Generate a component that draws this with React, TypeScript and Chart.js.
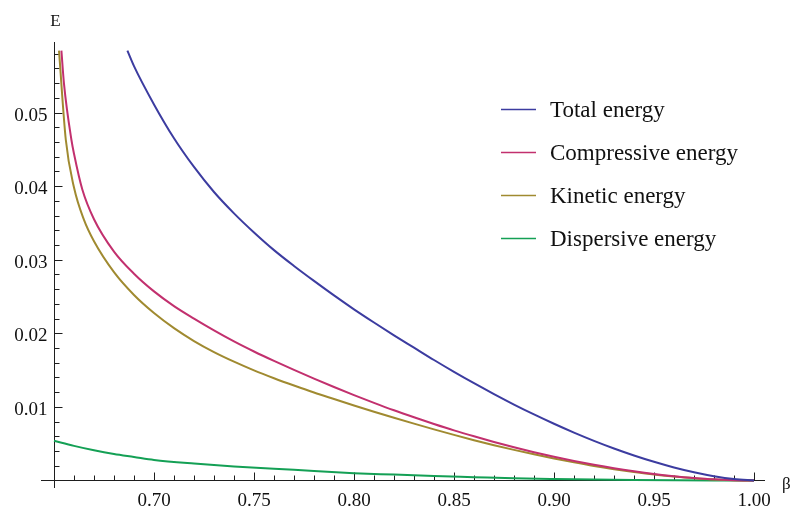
import React, { useEffect, useRef } from "react";
import { Chart, registerables } from "chart.js";

Chart.register(...registerables);

// Energy components E(β)
const betaTotal = [0.6867, 0.69, 0.70, 0.71, 0.72, 0.73, 0.74, 0.75, 0.76, 0.77, 0.78, 0.79, 0.80, 0.81, 0.82, 0.83, 0.84, 0.85, 0.86, 0.87, 0.88, 0.89, 0.90, 0.91, 0.92, 0.93, 0.94, 0.95, 0.96, 0.97, 0.98, 0.99, 1.00];
const totalEnergy = [0.0584, 0.0563, 0.0511, 0.0465, 0.0426, 0.0392, 0.0363, 0.0337, 0.0313, 0.02915, 0.02712, 0.02515, 0.02326, 0.02147, 0.01973, 0.01805, 0.01637, 0.01476, 0.01322, 0.01174, 0.01032, 0.00898, 0.00771, 0.00651, 0.00539, 0.00435, 0.0034, 0.00254, 0.00177, 0.00112, 0.00058, 0.00019, 0];

const betaCompressive = [0.6537, 0.655, 0.6587, 0.66, 0.6642, 0.67, 0.68, 0.69, 0.70, 0.71, 0.72, 0.73, 0.74, 0.75, 0.76, 0.77, 0.78, 0.79, 0.80, 0.81, 0.82, 0.83, 0.84, 0.85, 0.86, 0.87, 0.88, 0.89, 0.90, 0.91, 0.92, 0.93, 0.94, 0.95, 0.96, 0.97, 0.98, 0.99, 1.00];
const compressiveEnergy = [0.0584, 0.0539, 0.0463, 0.0444, 0.0395, 0.0355, 0.0311, 0.0281, 0.0257, 0.0237, 0.022, 0.0204, 0.0189, 0.01753, 0.01625, 0.01502, 0.01384, 0.0127, 0.0116, 0.01055, 0.00954, 0.00859, 0.00768, 0.00681, 0.006, 0.00523, 0.00451, 0.00384, 0.00322, 0.00265, 0.00213, 0.00166, 0.00125, 0.00089, 0.00059, 0.00035, 0.00016, 0.000045, 0];

const betaKinetic = [0.6525, 0.6559, 0.66, 0.665, 0.67, 0.68, 0.69, 0.70, 0.71, 0.72, 0.73, 0.74, 0.75, 0.76, 0.77, 0.78, 0.79, 0.80, 0.81, 0.82, 0.83, 0.84, 0.85, 0.86, 0.87, 0.88, 0.89, 0.90, 0.91, 0.92, 0.93, 0.94, 0.95, 0.96, 0.97, 0.98, 0.99, 1.00];
const kineticEnergy = [0.0584, 0.0463, 0.0398, 0.0354, 0.0325, 0.0283, 0.0252, 0.02275, 0.0207, 0.01895, 0.01745, 0.01615, 0.01497, 0.0139, 0.0129, 0.01195, 0.01107, 0.0102, 0.00935, 0.00853, 0.00773, 0.00695, 0.0062, 0.00548, 0.0048, 0.00416, 0.00356, 0.00299, 0.00246, 0.00197, 0.00154, 0.00116, 0.00082, 0.00055, 0.00032, 0.00015, 0.00004, 0];

const betaDispersive = [0.65, 0.66, 0.67, 0.68, 0.69, 0.70, 0.72, 0.74, 0.76, 0.78, 0.80, 0.82, 0.84, 0.86, 0.88, 0.90, 0.92, 0.94, 0.96, 0.98, 1.00];
const dispersiveEnergy = [0.0054, 0.0047, 0.0041, 0.0036, 0.0032, 0.0028, 0.0023, 0.0019, 0.0016, 0.0013, 0.001, 0.0008, 0.0006, 0.00045, 0.0003, 0.0002, 0.00012, 0.00006, 0.00003, 0.00001, 0];

const seriesLabels = ["Total energy", "Compressive energy", "Kinetic energy", "Dispersive energy"];
const seriesColors = ["#3C3CA0", "#C2306E", "#A08A30", "#14A055"];

// Axis ticks
const xTickValues = [0.70, 0.75, 0.80, 0.85, 0.90, 0.95, 1.00];
const xTickLabels = ["0.70", "0.75", "0.80", "0.85", "0.90", "0.95", "1.00"];
const yTickValues = [0.01, 0.02, 0.03, 0.04, 0.05];
const yTickLabels = ["0.01", "0.02", "0.03", "0.04", "0.05"];
const xAxisLabel = "β";
const yAxisLabel = "E";
const axesOrigin = { x: 0.65, y: 0 };

const SERIF = '"Liberation Serif", "Times New Roman", serif';
const AXIS_COLOR = "#1e1e1e";

const toPoints = (xs: number[], ys: number[]) => xs.map((x, i) => ({ x, y: ys[i] }));

const axesPlugin = {
  id: "crossedAxes",
  beforeDatasetsDraw(chart: any) {
    const { ctx, chartArea, scales } = chart;
    const xs = scales.x;
    const ys = scales.y;
    const ax = Math.round(xs.getPixelForValue(axesOrigin.x)) + 0.5;
    const ay = Math.floor(ys.getPixelForValue(axesOrigin.y)) + 0.5;
    ctx.save();
    ctx.strokeStyle = AXIS_COLOR;
    ctx.lineWidth = 1;
    ctx.beginPath();
    ctx.moveTo(chartArea.left, ay);
    ctx.lineTo(chartArea.right, ay);
    ctx.moveTo(ax, chartArea.top);
    ctx.lineTo(ax, chartArea.bottom);

    // x ticks: minor every 0.01, major every 0.05
    for (let i = 66; i <= 100; i++) {
      const v = i / 100;
      const px = Math.round(xs.getPixelForValue(v)) + 0.5;
      const len = i % 5 === 0 ? 8 : 5;
      ctx.moveTo(px, ay);
      ctx.lineTo(px, ay - len);
    }
    // y ticks: minor every 0.002, major every 0.01
    for (let i = 1; i <= 29; i++) {
      const v = i * 0.002;
      const py = Math.round(ys.getPixelForValue(v)) + 0.5;
      const len = i % 5 === 0 ? 8 : 5;
      ctx.moveTo(ax, py);
      ctx.lineTo(ax + len, py);
    }
    ctx.stroke();

    // tick labels
    ctx.fillStyle = "#111";
    ctx.font = `19px ${SERIF}`;
    ctx.textAlign = "center";
    ctx.textBaseline = "alphabetic";
    xTickValues.forEach((v, i) => {
      ctx.fillText(xTickLabels[i], xs.getPixelForValue(v), 506);
    });
    ctx.textAlign = "right";
    yTickValues.forEach((v, i) => {
      ctx.fillText(yTickLabels[i], ax - 7, ys.getPixelForValue(v) + 8);
    });

    // axis titles
    ctx.font = `17px ${SERIF}`;
    ctx.textAlign = "center";
    ctx.fillText(yAxisLabel, ax + 1, 26);
    ctx.textAlign = "left";
    ctx.fillText(xAxisLabel, 782, 489);
    ctx.restore();
  },
  afterDatasetsDraw(chart: any) {
    const { ctx } = chart;
    ctx.save();
    ctx.font = `23px ${SERIF}`;
    ctx.textAlign = "left";
    ctx.textBaseline = "alphabetic";
    chart.data.datasets.forEach((ds: any, i: number) => {
      const cy = 109.5 + i * 43;
      ctx.strokeStyle = ds.borderColor;
      ctx.lineWidth = 1.4;
      ctx.beginPath();
      ctx.moveTo(501, cy);
      ctx.lineTo(536, cy);
      ctx.stroke();
      ctx.fillStyle = "#111";
      ctx.fillText(ds.label, 550, cy + 7.5);
    });
    ctx.restore();
  },
};

export default function App() {
  const canvasRef = useRef<HTMLCanvasElement | null>(null);

  useEffect(() => {
    const canvas = canvasRef.current;
    if (!canvas) return;
    const series = [
      toPoints(betaTotal, totalEnergy),
      toPoints(betaCompressive, compressiveEnergy),
      toPoints(betaKinetic, kineticEnergy),
      toPoints(betaDispersive, dispersiveEnergy),
    ];
    const chart = new Chart(canvas, {
      type: "line",
      data: {
        datasets: series.map((data, i) => ({
          label: seriesLabels[i],
          data,
          borderColor: seriesColors[i],
          backgroundColor: seriesColors[i],
          borderWidth: 2,
          pointRadius: 0,
          fill: false,
          cubicInterpolationMode: "monotone" as const,
        })),
      },
      options: {
        animation: false,
        responsive: false,
        devicePixelRatio: 1,
        parsing: false,
        layout: { padding: { left: 41, top: 42, right: 25, bottom: 21 } },
        plugins: { legend: { display: false }, tooltip: { enabled: false } },
        scales: {
          x: { type: "linear", min: 0.6435, max: 1.0055, display: false },
          y: { type: "linear", min: -0.00102, max: 0.05958, display: false },
        },
      },
      plugins: [axesPlugin],
    });
    return () => chart.destroy();
  }, []);

  return (
    <div style={{ position: "fixed", left: 0, top: 0, width: 790, height: 509, background: "#fff" }}>
      <canvas ref={canvasRef} width={790} height={509} />
    </div>
  );
}
